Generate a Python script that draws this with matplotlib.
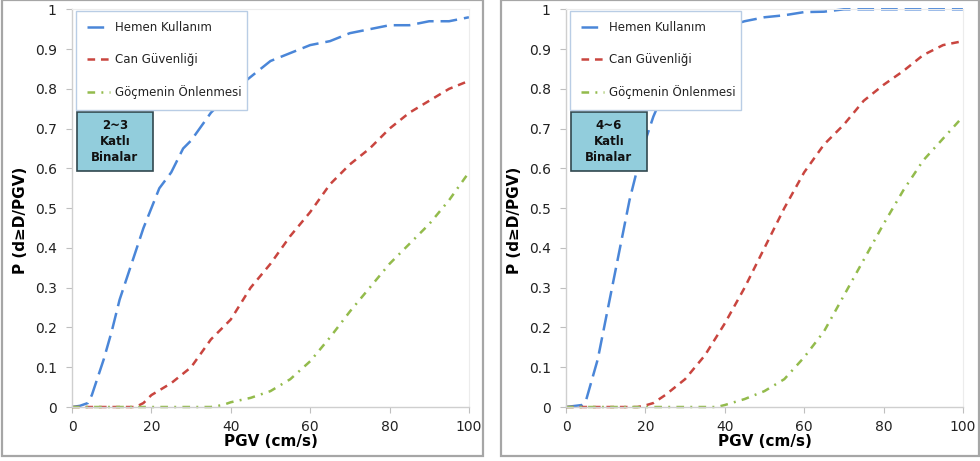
import matplotlib.pyplot as plt
from matplotlib.patches import Rectangle

plt.rcParams['font.family'] = ['DejaVu Sans']
plt.rcParams['lines.scale_dashes'] = False

# PGV values (cm/s) and fragility probabilities
pgv_left = [0, 2, 4, 5, 6, 8, 10, 12, 14, 16, 18, 20, 22, 25, 28, 30, 35, 40, 45, 50,
            55, 60, 65, 70, 75, 80, 85, 90, 95, 100]
hemen_left = [0, 0.003, 0.01, 0.03, 0.06, 0.12, 0.19, 0.27, 0.33, 0.39, 0.45, 0.50, 0.55,
              0.59, 0.65, 0.67, 0.74, 0.79, 0.83, 0.87, 0.89, 0.91, 0.92, 0.94, 0.95,
              0.96, 0.96, 0.97, 0.97, 0.98]

pgv_red_left = [0, 10, 16, 18, 20, 25, 30, 35, 40, 45, 50, 55, 60, 65, 70, 75, 80, 85, 90, 95, 100]
can_left = [0, 0, 0, 0.01, 0.03, 0.06, 0.10, 0.17, 0.22, 0.30, 0.36, 0.43, 0.49, 0.56,
            0.61, 0.65, 0.70, 0.74, 0.77, 0.80, 0.82]

pgv_green_left = [0, 35, 38, 40, 45, 50, 55, 60, 65, 70, 75, 80, 85, 90, 95, 100]
gocme_left = [0, 0, 0.005, 0.012, 0.023, 0.04, 0.07, 0.115, 0.175, 0.24, 0.30, 0.36,
              0.41, 0.46, 0.52, 0.59]

pgv_right = [0, 4, 5, 6, 8, 10, 12, 14, 16, 18, 20, 22, 25, 30, 35, 40, 45, 50, 55, 60,
             65, 70, 80, 90, 100]
hemen_right = [0, 0.005, 0.015, 0.05, 0.12, 0.22, 0.32, 0.42, 0.52, 0.60, 0.67, 0.73,
               0.80, 0.88, 0.93, 0.955, 0.97, 0.98, 0.985, 0.993, 0.994, 1.0, 1.0, 1.0, 1.0]

pgv_red_right = [0, 18, 20, 22, 25, 30, 35, 40, 45, 50, 55, 60, 65, 70, 75, 80, 85, 90, 95, 100]
can_right = [0, 0, 0.004, 0.01, 0.03, 0.07, 0.13, 0.21, 0.30, 0.40, 0.50, 0.59, 0.66,
             0.71, 0.77, 0.81, 0.845, 0.885, 0.91, 0.92]

pgv_green_right = [0, 38, 40, 45, 50, 55, 60, 65, 70, 75, 80, 85, 90, 95, 100]
gocme_right = [0, 0, 0.005, 0.02, 0.04, 0.07, 0.125, 0.19, 0.28, 0.37, 0.46, 0.545,
               0.62, 0.675, 0.73]

labels = ['Hemen Kullanım', 'Can Güvenliği', 'Göçmenin Önlenmesi']
box_texts = ['2~3\nKatlı\nBinalar', '4~6\nKatlı\nBinalar']
colors = ['#4A86D8', '#C9453F', '#93BB4C']
dashes = [(12, 5), (5.5, 4.2), (5.5, 4.5, 1.4, 4.5)]

panels = [
    [(pgv_left, hemen_left), (pgv_red_left, can_left), (pgv_green_left, gocme_left)],
    [(pgv_right, hemen_right), (pgv_red_right, can_right), (pgv_green_right, gocme_right)],
]

fig = plt.figure(figsize=(9.8, 4.61), dpi=100)

# grey frames around each panel
fig.patches.append(Rectangle((2/980, 5/461), 481/980, 455.5/461, transform=fig.transFigure,
                             fill=False, edgecolor='#a6a6a6', linewidth=1.6))
fig.patches.append(Rectangle((501/980, 5/461), 478/980, 455.5/461, transform=fig.transFigure,
                             fill=False, edgecolor='#a6a6a6', linewidth=1.6))

ax_lefts = [72/980, 566/980]
for i in range(2):
    ax = fig.add_axes([ax_lefts[i], 0.1171, 0.405, 0.8627])
    for (x, y), c, d, lab in zip(panels[i], colors, dashes, labels):
        ln, = ax.plot(x, y, color=c, linewidth=1.8, label=lab, clip_on=False)
        ln.set_dashes(d)

    ax.set_xlim(0, 100)
    ax.set_ylim(0, 1)
    ax.set_xticks([0, 20, 40, 60, 80, 100])
    ax.set_yticks([0, 0.1, 0.2, 0.3, 0.4, 0.5, 0.6, 0.7, 0.8, 0.9, 1])
    ax.set_yticklabels(['0', '0.1', '0.2', '0.3', '0.4', '0.5', '0.6', '0.7', '0.8', '0.9', '1'])
    ax.tick_params(axis='both', direction='out', length=4, width=0.8, color='#bfbfbf',
                   labelsize=10, labelcolor='#222222')
    ax.tick_params(axis='y', pad=7)
    ax.tick_params(axis='x', pad=5)
    for s in ['left', 'bottom']:
        ax.spines[s].set_color('#cfcfcf')
        ax.spines[s].set_linewidth(1.0)
    for s in ['top', 'right']:
        ax.spines[s].set_color('#ececec')
        ax.spines[s].set_linewidth(0.8)

    ax.set_xlabel('PGV (cm/s)', fontsize=11, fontweight='bold', labelpad=0)
    ax.set_ylabel('P (d≥D/PGV)', fontsize=11, fontweight='bold')
    ax.yaxis.set_label_coords(-0.11, 0.47)

    leg = ax.legend(loc='upper left', bbox_to_anchor=(0.01, 0.997, 0.43, 0.0), mode='expand',
                    borderaxespad=0, fontsize=8.5, labelspacing=1.6, handlelength=2.0,
                    handletextpad=0.4, borderpad=0.9, fancybox=False, framealpha=1)
    leg.get_frame().set_edgecolor('#b9cde5')
    leg.get_frame().set_linewidth(1.0)
    leg.set_zorder(7)
    for t in leg.get_texts():
        t.set_color('#222222')

    # building class box
    ax.add_patch(Rectangle((0.013, 0.594), 0.19, 0.148, transform=ax.transAxes,
                           facecolor='#92CDDC', edgecolor='#31484f', linewidth=1.2, zorder=5))
    ax.text(0.108, 0.668, box_texts[i], transform=ax.transAxes, ha='center', va='center',
            fontsize=8.5, fontweight='bold', linespacing=1.3, zorder=6, color='#111111')

plt.savefig('out.png', dpi=100)
